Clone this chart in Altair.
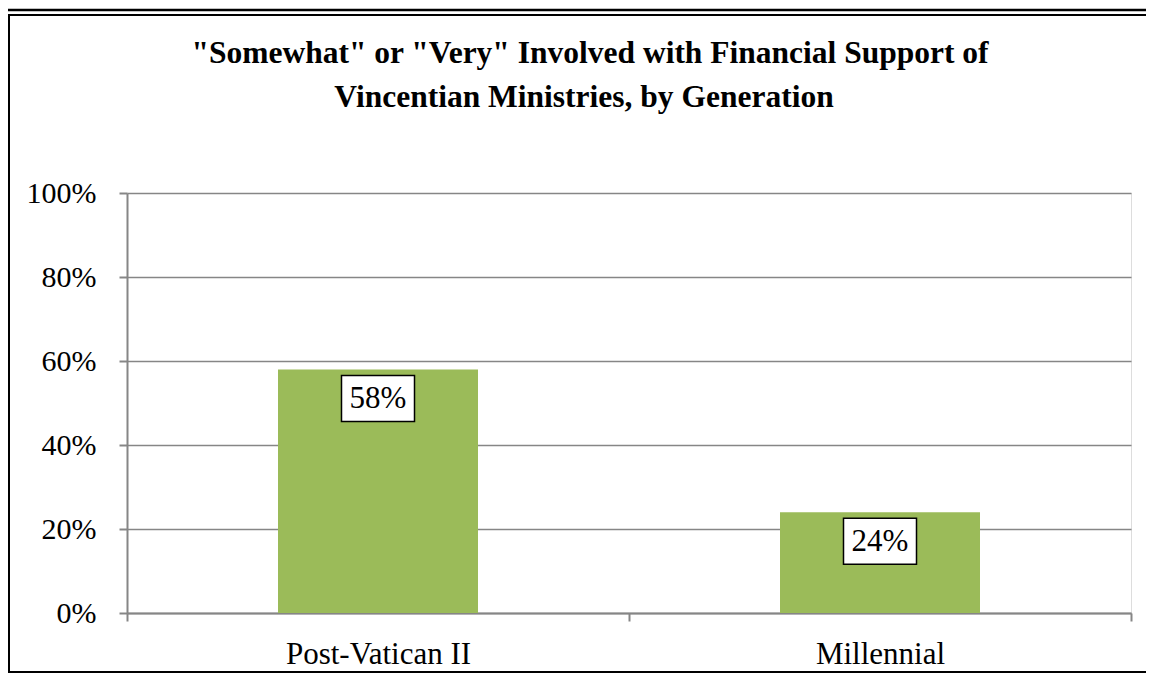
import altair as alt
import pandas as pd

categories = ["Post-Vatican II", "Millennial"]
values = [0.58, 0.24]
labels = ["58%", "24%"]
title_lines = ['"Somewhat" or "Very" Involved with Financial Support of',
               'Vincentian Ministries, by Generation']

df = pd.DataFrame({"gen": categories, "v": values, "lab": labels})

FONT = "Liberation Serif"
TFONT = "Times New Roman, Liberation Serif, serif"
W, H = 1004, 420

x = alt.X("gen:N", sort=categories, title=None,
          scale=alt.Scale(paddingInner=0, paddingOuter=0),
          axis=alt.Axis(labelAngle=0, labelFont=FONT, labelFontSize=31, labelColor="black",
                        labelLimit=0, labelPadding=18, tickBand="extent", tickSize=8,
                        tickColor="#868686", tickWidth=2, domainColor="#868686", domainWidth=2,
                        grid=False))
y = alt.Y("v:Q", title=None,
          scale=alt.Scale(domain=[0, 1], nice=False),
          axis=alt.Axis(values=[0, 0.2, 0.4, 0.6, 0.8, 1.0], format=".0%", labelFont=FONT,
                        labelFontSize=30, labelColor="black", labelPadding=23, tickSize=8,
                        tickColor="#868686", tickWidth=2, domainColor="#868686", domainWidth=2,
                        gridColor="#868686", gridWidth=1.5))

base = alt.Chart(df)
bars = base.mark_bar(color="#9BBB59", width=200).encode(x=x, y=y)
boxes = base.mark_bar(width=73, fill="white", stroke="black", strokeWidth=1.5,
                      yOffset=6, y2Offset=52).encode(x=x, y=y, y2="v:Q")
texts = base.mark_text(font=FONT, fontSize=31, color="black", dy=30, baseline="middle").encode(
    x=x, y=y, text="lab:N")

tstyle = dict(font=TFONT, fontSize=31.5, fontWeight="bold", color="black", baseline="alphabetic")
title1 = alt.Chart(pd.DataFrame({"t": [title_lines[0]]})).mark_text(**tstyle).encode(
    x=alt.value(463), y=alt.value(-130), text="t:N")
title2 = alt.Chart(pd.DataFrame({"t": [title_lines[1]]})).mark_text(**tstyle).encode(
    x=alt.value(457), y=alt.value(-86), text="t:N")

outer = alt.Chart(pd.DataFrame({"a": [0]})).mark_rect(fill=None, stroke="black", strokeWidth=2.5).encode(
    x=alt.value(-124), x2=alt.value(1040), y=alt.value(-183), y2=alt.value(495))
inner = alt.Chart(pd.DataFrame({"a": [0]})).mark_rect(fill=None, stroke="black", strokeWidth=2).encode(
    x=alt.value(-118), x2=alt.value(1034), y=alt.value(-178), y2=alt.value(479))

chart = alt.layer(outer, inner, bars, boxes, texts, title1, title2).properties(
    width=W, height=H,
    autosize=alt.AutoSizeParams(type="none"),
    padding={"left": 119, "top": 185, "right": 15, "bottom": 62},
).configure_view(stroke=None).configure(background="white")

chart.save("out.html", embed_options={"renderer": "svg", "actions": False})
